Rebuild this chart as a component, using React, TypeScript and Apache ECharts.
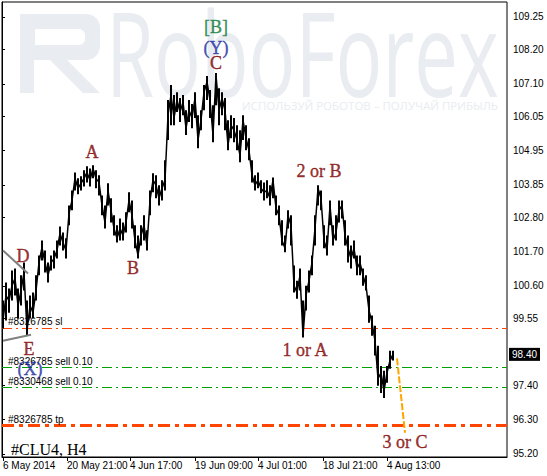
import React, { useEffect, useRef } from "react";
import * as echarts from "echarts";

// H4 prices of #CLU4, sampled every third bar starting at bar 1
const closes = [
  99.49, 100.29, 100.13, 100.61, 100.84, 99.97, 100.45, 101.03, 99.16, 99.97,
  99.74, 100.45, 101.35, 101.84, 101.35, 100.94, 101.35, 101.48, 101.74, 102.29,
  102.0, 101.74, 102.93, 103.35, 104.06, 103.74, 103.9, 104.06, 104.25, 104.0,
  104.38, 104.06, 103.93, 103.19, 102.64, 103.67, 103.03, 102.45, 102.13, 102.45,
  102.22, 102.64, 103.35, 102.87, 102.06, 101.58, 102.22, 102.55, 101.9, 103.35,
  104.0, 103.84, 103.42, 103.74, 104.0, 106.09, 106.74, 106.0, 106.58, 106.19,
  106.51, 105.67, 106.25, 106.0, 106.64, 105.29, 105.93, 106.83, 107.16, 106.58,
  105.45, 107.38, 106.25, 106.64, 106.25, 105.13, 105.77, 105.61, 105.29, 104.8,
  105.93, 105.35, 104.96, 104.16, 103.84, 104.0, 103.74, 103.61, 103.67, 103.42,
  104.0, 103.1, 102.87, 102.06, 101.81, 102.87, 102.55, 100.61, 100.39, 100.94,
  99.0, 100.29, 100.77, 101.35, 102.45, 103.74, 103.42, 102.06, 101.74, 103.19,
  102.06, 102.32, 103.03, 103.19, 102.22, 101.81, 101.48, 101.81, 101.16, 101.35,
  100.94, 100.61, 99.81, 99.42, 98.84, 97.62, 97.81, 97.23, 97.81, 98.2,
  98.4,
];
const highs = [
  100.13, 100.71, 100.52, 101.1, 101.16, 100.52, 100.94, 101.35, 100.13, 100.29,
  100.39, 100.94, 101.58, 102.06, 101.74, 101.35, 101.58, 101.74, 102.06, 102.51,
  102.32, 102.13, 103.19, 103.67, 104.25, 104.06, 104.13, 104.32, 104.45, 104.38,
  104.48, 104.32, 104.16, 103.51, 103.19, 103.9, 103.42, 102.87, 102.55, 102.77,
  102.64, 102.97, 103.61, 103.35, 102.55, 102.22, 102.55, 102.87, 102.39, 103.67,
  104.22, 104.16, 103.84, 104.0, 104.64, 106.58, 107.06, 106.74, 106.83, 106.64,
  106.74, 106.25, 106.58, 106.45, 106.83, 106.09, 106.25, 107.06, 107.35, 106.9,
  106.41, 107.45, 106.96, 106.83, 106.64, 105.93, 106.09, 106.0, 105.77, 105.61,
  106.09, 105.77, 105.35, 104.64, 104.16, 104.25, 104.0, 103.93, 104.0, 103.84,
  104.09, 103.51, 103.19, 102.71, 102.22, 103.03, 102.87, 101.26, 100.77, 101.16,
  100.13, 100.61, 101.1, 101.58, 102.87, 103.84, 103.67, 102.55, 102.22, 103.35,
  102.55, 102.87, 103.35, 103.35, 102.71, 102.22, 101.9, 102.06, 101.58, 101.58,
  101.16, 100.94, 100.29, 99.65, 99.32, 98.68, 98.03, 97.87, 98.03, 98.52,
  98.52,
];
const lows = [
  99.23, 99.49, 99.74, 100.13, 100.29, 99.55, 99.97, 100.45, 99.0, 99.55,
  99.55, 100.13, 100.94, 101.42, 101.03, 100.71, 101.1, 101.16, 101.48, 101.9,
  101.74, 101.48, 102.55, 103.03, 103.67, 103.55, 103.67, 103.8, 103.93, 103.8,
  104.06, 103.74, 103.51, 102.87, 102.45, 103.19, 102.64, 102.22, 102.0, 102.06,
  102.06, 102.32, 102.97, 102.45, 101.81, 101.48, 101.9, 102.06, 101.74, 102.87,
  103.61, 103.42, 103.19, 103.35, 103.67, 105.29, 105.77, 105.77, 106.19, 105.87,
  106.09, 105.45, 105.87, 105.67, 106.0, 105.03, 105.61, 106.25, 106.58, 106.0,
  105.22, 106.41, 105.77, 106.09, 105.61, 104.96, 105.35, 105.22, 104.96, 104.58,
  105.29, 104.96, 104.64, 103.93, 103.67, 103.74, 103.58, 103.35, 103.42, 103.19,
  103.42, 102.87, 102.55, 101.9, 101.68, 102.45, 101.9, 100.39, 100.19, 100.45,
  98.94, 99.81, 100.39, 100.94, 101.9, 103.19, 103.03, 101.81, 101.58, 102.55,
  101.9, 102.06, 102.64, 102.77, 101.9, 101.35, 101.16, 101.48, 100.94, 100.94,
  100.61, 100.45, 99.42, 99.0, 98.36, 97.39, 97.16, 97.0, 97.49, 97.94,
  98.2,
];
const FIRST_BAR = 1;
const BAR_STEP = 3;
const BARS_ON_SCREEN = 505;

const timeTickBars = [1, 65, 128, 193, 256, 321, 385];
const timeTickLabels = [
  "6 May 2014",
  "20 May 21:00",
  "4 Jun 17:00",
  "19 Jun 09:00",
  "4 Jul 01:00",
  "18 Jul 21:00",
  "4 Aug 13:00",
];

const priceTicks = [
  109.25, 108.2, 107.1, 106.05, 104.95, 103.85, 102.8, 101.7, 100.6, 99.55,
  97.4, 96.3, 95.2,
];
const PRICE_MIN = 95.1;
const PRICE_MAX = 109.73;
const lastPrice = 98.4;

// Open orders
const orderNames = [
  "#8326785 sl",
  "#8326785 sell 0.10",
  "#8330468 sell 0.10",
  "#8326785 tp",
];
const orderPrices = [99.25, 97.97, 97.33, 96.11];
const orderColors = ["#ff4500", "#00a000", "#00a000", "#ff4500"];
const orderWidths = [1, 1, 1, 3];

// Elliott wave marks
const waveNames = ["[B]", "(Y)", "C", "A", "B", "D", "E", "(X)", "2 or B", "1 or A", "3 or C"];
const waveBars = [214, 214, 214, 90, 131, 21, 27, 28, 317, 303, 403];
const wavePrices = [108.93, 108.25, 107.77, 104.9, 101.19, 101.55, 98.58, 97.94, 104.29, 98.55, 95.59];
const waveColors = [
  "#0e7a3a", "#1a2aa0", "#800000", "#800000", "#800000", "#800000",
  "#800000", "#1a2aa0", "#800000", "#800000", "#800000",
];

// Triangle trend lines at the left edge
const trendStartBars = [1, 1];
const trendStartPrices = [101.74, 98.84];
const trendEndBars = [26, 29];
const trendEndPrices = [101.0, 99.03];

// Forecast leg
const forecastBars = [395, 403];
const forecastPrices = [98.27, 95.88];

const WM = "#e9ecf0";

export default function App() {
  const ref = useRef<HTMLDivElement>(null);

  useEffect(() => {
    if (!ref.current) return;
    const chart = echarts.init(ref.current, undefined, { renderer: "svg" });

    const barX = (i: number) => FIRST_BAR + i * BAR_STEP;
    const priceData = closes.map((c, i) => [barX(i), c]);
    const rangeData = closes.map((_, i) => [barX(i), lows[i], highs[i]]);

    const orderLines = orderPrices.map((p, i) => ({
      yAxis: p,
      name: orderNames[i],
      lineStyle: {
        color: orderColors[i],
        width: orderWidths[i],
        type: orderWidths[i] > 1 ? [12, 5, 4, 5] : [10, 4, 2, 4],
      },
    }));

    const trendLines = trendStartBars.map((b, i) => [
      { coord: [b, trendStartPrices[i]] },
      { coord: [trendEndBars[i], trendEndPrices[i]] },
    ]);

    const option: any = {
      animation: false,
      backgroundColor: "#ffffff",
      title: {
        text: "#CLU4, H4",
        left: 6,
        top: 436,
        textStyle: {
          fontFamily: "Liberation Serif",
          fontSize: 16,
          fontWeight: "normal",
          color: "#000",
        },
      },
      graphic: [
        {
          type: "group",
          z: -10,
          silent: true,
          children: [
            { type: "rect", shape: { x: 20, y: 14, width: 14, height: 79 }, style: { fill: WM } },
            { type: "rect", shape: { x: 20, y: 14, width: 80, height: 46, r: [0, 14, 14, 0] }, style: { fill: WM } },
            { type: "rect", shape: { x: 35, y: 29, width: 50, height: 16, r: [0, 6, 6, 0] }, style: { fill: "#fff" } },
            { type: "polygon", shape: { points: [[50, 60], [67, 60], [100, 93], [83, 93]] }, style: { fill: WM } },
            {
              type: "text",
              x: 106,
              y: -8,
              scaleX: 0.66,
              style: {
                text: "RoboForex",
                fontFamily: "Open Sans",
                fontSize: 118,
                fill: WM,
              },
            },
            {
              type: "text",
              x: 242,
              y: 99,
              style: {
                text: "ИСПОЛЬЗУЙ РОБОТОВ – ПОЛУЧАЙ ПРИБЫЛЬ",
                fontFamily: "Open Sans",
                fontSize: 11.5,
                fill: WM,
              },
            },
          ],
        },
      ],
      grid: {
        left: 2,
        right: 40,
        top: 2,
        bottom: 19,
        show: true,
        borderColor: "#000",
        borderWidth: 1,
        backgroundColor: "transparent",
      },
      xAxis: {
        type: "value",
        min: 0,
        max: BARS_ON_SCREEN,
        splitLine: { show: false },
        axisLine: { lineStyle: { color: "#000" } },
        axisTick: { customValues: timeTickBars, length: 4, lineStyle: { color: "#000" } },
        axisLabel: {
          customValues: timeTickBars,
          formatter: (v: number) => {
            const k = timeTickBars.indexOf(Math.round(v));
            return k >= 0 ? timeTickLabels[k] : "";
          },
          align: "left",
          margin: 3,
          color: "#000",
          fontFamily: "Liberation Sans",
          fontSize: 10,
        },
      },
      yAxis: [
        {
          type: "value",
          position: "right",
          min: PRICE_MIN,
          max: PRICE_MAX,
          splitLine: { show: false },
          axisLine: { show: true, lineStyle: { color: "#000" } },
          axisTick: { show: true, customValues: priceTicks, length: 3, lineStyle: { color: "#000" } },
          axisLabel: {
            customValues: priceTicks,
            formatter: (v: number) => v.toFixed(2),
            margin: 6,
            color: "#000",
            fontFamily: "Liberation Sans",
            fontSize: 10,
          },
        },
        {
          type: "value",
          position: "right",
          min: PRICE_MIN,
          max: PRICE_MAX,
          splitLine: { show: false },
          axisLine: { show: false },
          axisTick: { show: false },
          axisLabel: {
            customValues: [lastPrice],
            formatter: (v: number) => v.toFixed(2),
            margin: 2,
            color: "#fff",
            backgroundColor: "#000",
            padding: [2, 3, 1, 3],
            fontFamily: "Liberation Sans",
            fontSize: 10,
          },
        },
      ],
      series: [
        {
          // high-low range of each sampled bar
          type: "custom",
          data: rangeData,
          encode: { x: 0, y: [1, 2] },
          z: 3,
          renderItem: (_params: any, api: any) => {
            const x = api.value(0);
            const lo = api.coord([x, api.value(1)]);
            const hi = api.coord([x, api.value(2)]);
            return {
              type: "line",
              shape: { x1: lo[0], y1: lo[1], x2: hi[0], y2: hi[1] },
              style: { stroke: "#000", lineWidth: 2 },
            };
          },
        },
        {
          type: "line",
          data: priceData,
          symbol: "none",
          lineStyle: { color: "#000", width: 1.5 },
          z: 3,
          markLine: {
            silent: true,
            symbol: ["none", "none"],
            z: 2,
            label: {
              show: true,
              position: "insideStartTop",
              formatter: "{b}",
              color: "#000",
              fontFamily: "Liberation Sans",
              fontSize: 10,
              distance: [6, 1],
            },
            data: orderLines,
          },
        },
        {
          type: "line",
          data: [],
          markLine: {
            silent: true,
            symbol: ["none", "none"],
            label: { show: false },
            lineStyle: { color: "#808080", width: 2, type: "solid" },
            data: trendLines,
          },
        },
        {
          type: "line",
          data: forecastBars.map((b, i) => [b, forecastPrices[i]]),
          symbol: "none",
          lineStyle: { color: "#ffa500", width: 2, type: [7, 2] },
          z: 3,
        },
        {
          type: "scatter",
          symbolSize: 0,
          z: 5,
          data: waveNames.map((n, i) => ({
            name: n,
            value: [waveBars[i], wavePrices[i]],
            label: { color: waveColors[i], textBorderColor: waveColors[i] },
          })),
          label: {
            show: true,
            position: "inside",
            formatter: (p: any) => p.name,
            fontFamily: "Liberation Serif",
            fontSize: 18,
            textBorderWidth: 0.4,
            textShadowBlur: 0,
          },
        },
      ],
    };

    chart.setOption(option);
    return () => chart.dispose();
  }, []);

  return (
    <div
      ref={ref}
      style={{ position: "fixed", left: 0, top: 0, width: 547, height: 476 }}
    />
  );
}
